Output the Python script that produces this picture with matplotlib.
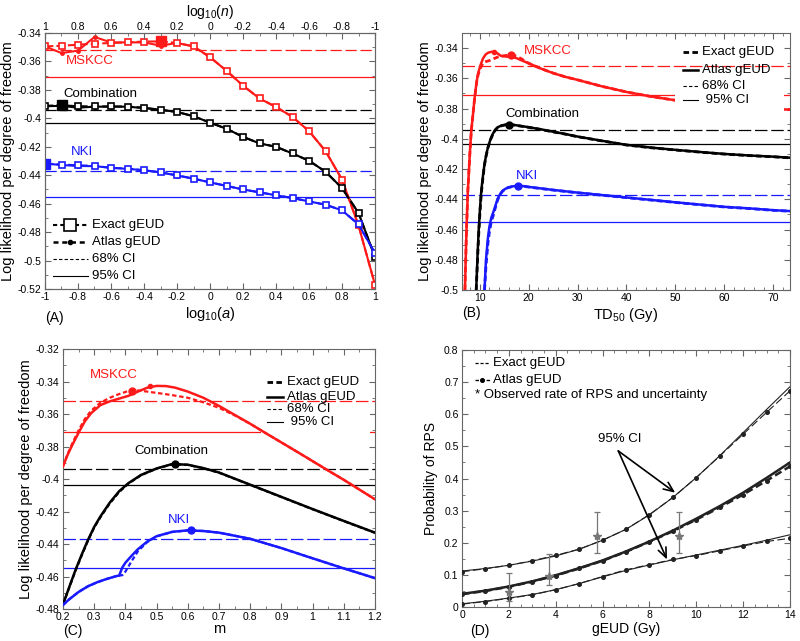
import matplotlib
matplotlib.use('Agg')
import matplotlib.pyplot as plt
from matplotlib.lines import Line2D
from matplotlib.patches import Rectangle
from matplotlib.ticker import MultipleLocator, FuncFormatter

plt.rcParams['font.family'] = 'Liberation Sans'
plt.rcParams['axes.unicode_minus'] = False
plt.rcParams['mathtext.fontset'] = 'custom'
plt.rcParams['mathtext.rm'] = 'Liberation Sans'
plt.rcParams['mathtext.it'] = 'Liberation Sans:italic'
plt.rcParams['xtick.direction'] = 'in'
plt.rcParams['ytick.direction'] = 'in'
plt.rcParams['xtick.top'] = True
plt.rcParams['ytick.right'] = True
plt.rcParams['xtick.major.size'] = 4
plt.rcParams['ytick.major.size'] = 4
plt.rcParams['xtick.minor.size'] = 2
plt.rcParams['ytick.minor.size'] = 2
plt.rcParams['xtick.major.pad'] = 2.5
plt.rcParams['ytick.major.pad'] = 2.5
plt.rcParams['axes.edgecolor'] = '#666666'
plt.rcParams['xtick.color'] = '#666666'
plt.rcParams['ytick.color'] = '#666666'
plt.rcParams['xtick.labelcolor'] = 'black'
plt.rcParams['ytick.labelcolor'] = 'black'

RED = '#ff1a1a'
BLUE = '#1a1aff'

# ---------------- panel A: vs log10(a) ----------------
log_a = [-1.0, -0.9, -0.8, -0.7, -0.6, -0.5, -0.4, -0.3, -0.2, -0.1, 0.0,
         0.1, 0.2, 0.3, 0.4, 0.5, 0.6, 0.7, 0.8, 0.9, 1.0]
a_mskcc_exact = [-0.3494, -0.349, -0.3482, -0.3475, -0.347, -0.3466, -0.346, -0.3459, -0.347, -0.3494, -0.357,
                 -0.3665, -0.377, -0.386, -0.392, -0.399, -0.409, -0.423, -0.443, -0.4753, -0.517]
a_mskcc_atlas = [-0.3494, -0.3541, -0.3524, -0.3428, -0.3466, -0.3466, -0.3466, -0.3489, -0.347, -0.3494, -0.357,
                 -0.3665, -0.377, -0.386, -0.392, -0.399, -0.409, -0.423, -0.443, -0.4753, -0.517]
a_comb_exact = [-0.3912, -0.3908, -0.3915, -0.3916, -0.3916, -0.3917, -0.3925, -0.394, -0.3955, -0.3985, -0.403,
                -0.4073, -0.413, -0.4176, -0.420, -0.4247, -0.4298, -0.4375, -0.449, -0.4665, -0.4975]
a_comb_atlas = [-0.3915, -0.3912, -0.3925, -0.3918, -0.3918, -0.3918, -0.3928, -0.394, -0.3955, -0.3985, -0.403,
                -0.4073, -0.413, -0.4176, -0.420, -0.4247, -0.4298, -0.4375, -0.449, -0.4665, -0.4975]
a_nki_exact = [-0.4318, -0.4325, -0.433, -0.4334, -0.4348, -0.4353, -0.4365, -0.438, -0.440, -0.4424, -0.445,
               -0.4475, -0.450, -0.452, -0.4541, -0.456, -0.4584, -0.4607, -0.4647, -0.4745, -0.4948]
a_nki_atlas = [-0.4318, -0.4328, -0.4335, -0.4336, -0.4348, -0.4355, -0.4365, -0.438, -0.4402, -0.4424, -0.445,
               -0.4475, -0.450, -0.452, -0.4541, -0.456, -0.4584, -0.4607, -0.4647, -0.4745, -0.4948]
a_peak_idx = [7, 1, 0]   # filled square = maximum (MSKCC, Combination, NKI)

# confidence levels (same in A, B, C)
ci68 = [-0.352, -0.394, -0.437]
ci95 = [-0.371, -0.4035, -0.455]

# ---------------- panel B: vs TD50 ----------------
b_mskcc_x = [7.0, 7.3, 7.6, 8.0, 8.3, 8.7, 9.0, 9.4, 9.7, 10.2, 10.7, 11.2, 11.7, 12.3, 12.9, 13.6, 14.4, 15.5,
             16.5, 17.5, 18.5, 20, 22.5, 25, 27.5, 30, 35, 40, 45, 50, 55, 60, 65, 70, 73.4]
b_mskcc_atlas = [-0.5, -0.462, -0.434, -0.41, -0.3945, -0.382, -0.3724, -0.362, -0.3565, -0.351, -0.3468, -0.3443,
                 -0.3431, -0.3425, -0.3424, -0.3434, -0.3452, -0.3456, -0.3458, -0.3466, -0.348, -0.350, -0.3535,
                 -0.3565, -0.359, -0.361, -0.3653, -0.369, -0.372, -0.3745, -0.3765, -0.3782, -0.3795, -0.3803, -0.3807]
b_mskcc_exact = [-0.5, -0.462, -0.434, -0.41, -0.3945, -0.382, -0.3724, -0.3625, -0.3575, -0.353, -0.3497, -0.349,
                 -0.3485, -0.348, -0.347, -0.346, -0.3453, -0.3448, -0.3447, -0.3452, -0.347, -0.350, -0.3535,
                 -0.3565, -0.359, -0.361, -0.3653, -0.369, -0.372, -0.3745, -0.3765, -0.3782, -0.3795, -0.3803, -0.3807]
b_comb_x = [9.3, 9.6, 9.8, 10.1, 10.35, 10.7, 11.0, 11.35, 11.7, 12.2, 12.7, 13.2, 13.7, 14.5, 15.3, 16.1, 17, 18,
            20, 22.5, 25, 27.5, 30, 35, 40, 45, 50, 55, 60, 65, 70, 73.4]
b_comb_atlas = [-0.5, -0.475, -0.461, -0.445, -0.434, -0.424, -0.4166, -0.4105, -0.4056, -0.4005, -0.3967, -0.394,
                -0.3923, -0.3912, -0.3907, -0.3906, -0.3908, -0.3913, -0.3923, -0.3937, -0.3953, -0.3968, -0.3985,
                -0.4013, -0.404, -0.4058, -0.4073, -0.4087, -0.410, -0.411, -0.4118, -0.4125]
b_comb_exact = [-0.5, -0.478, -0.464, -0.447, -0.436, -0.425, -0.4172, -0.411, -0.406, -0.4008, -0.3969, -0.3942,
                -0.3925, -0.3913, -0.3907, -0.3906, -0.3909, -0.3914, -0.3924, -0.3938, -0.3954, -0.3969, -0.3986,
                -0.4014, -0.4041, -0.4059, -0.4074, -0.4088, -0.4101, -0.4111, -0.4119, -0.4126]
b_nki_x = [11.0, 11.3, 11.7, 12.0, 12.4, 12.8, 13.1, 13.4, 13.7, 14.2, 14.7, 15.2, 15.8, 16.8, 17.8, 19, 20,
           22.5, 25, 27.5, 30, 35, 40, 45, 50, 55, 60, 65, 70, 73.4]
b_nki_atlas = [-0.5, -0.48, -0.4654, -0.458, -0.452, -0.4485, -0.4455, -0.4425, -0.4395, -0.4365, -0.4343, -0.4332,
               -0.4322, -0.4314, -0.431, -0.4313, -0.4318, -0.4328, -0.4338, -0.4347, -0.4356, -0.4372, -0.4388,
               -0.4404, -0.442, -0.4435, -0.445, -0.446, -0.4472, -0.4478]
b_nki_exact = [-0.5, -0.484, -0.469, -0.4615, -0.4545, -0.4505, -0.4468, -0.4435, -0.4402, -0.4368, -0.4346,
               -0.4334, -0.4323, -0.4315, -0.4311, -0.4314, -0.4319, -0.4329, -0.4339, -0.4348, -0.4357, -0.4373,
               -0.4389, -0.4405, -0.4421, -0.4436, -0.4451, -0.4461, -0.4473, -0.4479]
b_atlas_peak = [(12.9, -0.3424), (16.1, -0.3906), (17.8, -0.431)]
b_exact_peak = [(16.5, -0.3447), (16.1, -0.3906), (17.8, -0.431)]

# ---------------- panel C: vs m ----------------
c_mskcc_x = [0.2, 0.215, 0.23, 0.25, 0.27, 0.29, 0.32, 0.35, 0.38, 0.41, 0.44, 0.47, 0.5, 0.53, 0.56, 0.6,
             0.65, 0.7, 0.75, 0.8, 0.85, 0.9, 0.95, 1.0, 1.05, 1.1, 1.15, 1.2]
c_mskcc_atlas = [-0.3922, -0.385, -0.379, -0.3715, -0.3645, -0.3595, -0.3545, -0.3522, -0.3505, -0.3488, -0.3462,
                 -0.3438, -0.3427, -0.3428, -0.3438, -0.3462, -0.350, -0.355, -0.3605, -0.366, -0.3718, -0.3775,
                 -0.3832, -0.389, -0.3948, -0.4005, -0.4065, -0.4125]
c_mskcc_exact = [-0.3922, -0.3845, -0.378, -0.370, -0.363, -0.358, -0.353, -0.350, -0.3477, -0.3458, -0.3455,
                 -0.3462, -0.347, -0.3478, -0.3487, -0.350, -0.3528, -0.3562, -0.3608, -0.366, -0.3718, -0.3775,
                 -0.3832, -0.389, -0.3948, -0.4005, -0.4065, -0.4125]
c_comb_x = [0.2, 0.22, 0.24, 0.26, 0.28, 0.3, 0.32, 0.35, 0.38, 0.41, 0.45, 0.5, 0.55, 0.6, 0.65, 0.7, 0.8,
            0.9, 1.0, 1.1, 1.2]
c_comb_atlas = [-0.4772, -0.4665, -0.456, -0.4465, -0.4375, -0.4295, -0.423, -0.4145, -0.4075, -0.4025, -0.3975,
                -0.3935, -0.3908, -0.3912, -0.3933, -0.396, -0.4035, -0.411, -0.4185, -0.4258, -0.433]
c_comb_exact = [-0.4772, -0.4668, -0.4565, -0.447, -0.438, -0.4298, -0.4235, -0.415, -0.408, -0.4028, -0.3977,
                -0.3936, -0.3909, -0.3913, -0.3934, -0.3961, -0.4036, -0.4111, -0.4186, -0.4259, -0.4331]
c_nki_x = [0.2, 0.22, 0.25, 0.28, 0.31, 0.34, 0.37, 0.38, 0.39, 0.4, 0.42, 0.44, 0.47, 0.5, 0.55, 0.6, 0.65,
           0.7, 0.8, 0.9, 1.0, 1.1, 1.2]
c_nki_atlas = [-0.4775, -0.474, -0.4695, -0.466, -0.4635, -0.4615, -0.4598, -0.4594, -0.4545, -0.4515, -0.4472,
               -0.4432, -0.4385, -0.4352, -0.4325, -0.4316, -0.432, -0.433, -0.4368, -0.4425, -0.4488, -0.455, -0.461]
c_nki_exact = [-0.4775, -0.474, -0.4695, -0.466, -0.4635, -0.4615, -0.4598, -0.4594, -0.4592, -0.457, -0.4505,
               -0.4445, -0.4388, -0.4353, -0.4326, -0.4316, -0.432, -0.433, -0.4368, -0.4425, -0.4488, -0.455, -0.461]
c_atlas_peak = [(0.48, -0.3428), (0.56, -0.3905), (0.61, -0.4316)]
c_exact_peak = [(0.42, -0.3456), (0.56, -0.3905), (0.61, -0.4316)]

# ---------------- panel D: probability of RPS vs gEUD ----------------
geud = [0, 1, 2, 3, 4, 5, 6, 7, 8, 9, 10, 11, 12, 13, 14]
d_up_exact = [0.112, 0.120, 0.130, 0.143, 0.159, 0.180, 0.208, 0.242, 0.287, 0.341, 0.403, 0.471, 0.543, 0.615, 0.686]
d_up_atlas = [0.110, 0.119, 0.130, 0.144, 0.161, 0.180, 0.208, 0.242, 0.288, 0.341, 0.403, 0.470, 0.538, 0.606, 0.673]
d_mid_exact = [0.041, 0.051, 0.064, 0.080, 0.099, 0.121, 0.145, 0.173, 0.204, 0.238, 0.275, 0.314, 0.356, 0.402, 0.450]
d_mid_atlas = [0.040, 0.050, 0.063, 0.079, 0.098, 0.120, 0.144, 0.172, 0.203, 0.236, 0.272, 0.310, 0.350, 0.393, 0.438]
d_lo_exact = [0.010, 0.018, 0.028, 0.039, 0.054, 0.073, 0.094, 0.114, 0.131, 0.147, 0.162, 0.177, 0.192, 0.208, 0.225]
d_lo_atlas = [0.009, 0.017, 0.027, 0.038, 0.054, 0.073, 0.095, 0.116, 0.132, 0.148, 0.160, 0.175, 0.190, 0.204, 0.214]
obs_x = [2.0, 3.7, 5.75, 9.27]
obs_y = [0.046, 0.097, 0.220, 0.220]
obs_lo = [0.020, 0.068, 0.167, 0.167]
obs_hi = [0.107, 0.165, 0.297, 0.297]

colors = [RED, 'black', BLUE]

TICK_FS = 7.5
LAB_FS = 10.5
TXT_FS = 9.5


def fmt(v, pos):
    return '%g' % (round(v, 4) + 0.0)


def legend_rows(ax, rows, x0, x1, xt, fs):
    # rows: (y, label, line style) in axes fraction
    for y, label, kw in rows:
        ax.add_line(Line2D([x0, x1], [y, y], transform=ax.transAxes, zorder=6, **kw))
        ax.text(xt, y, label, transform=ax.transAxes, fontsize=fs, va='center', ha='left', zorder=6)


fig = plt.figure(figsize=(8, 6.41), dpi=100)

# ======== A ========
axA = fig.add_axes([0.05625, 0.5491, 0.4125, 0.3994])
series_a = [(a_mskcc_exact, a_mskcc_atlas), (a_comb_exact, a_comb_atlas), (a_nki_exact, a_nki_atlas)]
for (ex, at), col, pk, h68, h95 in zip(series_a, colors, a_peak_idx, ci68, ci95):
    axA.axhline(h68, color=col, lw=0.9, ls=(0, (9, 3)), zorder=2)
    axA.axhline(h95, color=col, lw=0.9, zorder=2)
    axA.plot(log_a, at, '-', color=col, lw=1.5, marker='o', ms=2.5, zorder=3)
    axA.plot(log_a, ex, '--', color=col, lw=1.5, dashes=(4, 1.5), marker='s', ms=5,
             mfc='white', mew=1.2, zorder=4)
    axA.plot(log_a[pk], ex[pk], 's', color=col, ms=7, zorder=5)
axA.set_xlim(-1, 1)
axA.set_ylim(-0.52, -0.34)
axA.xaxis.set_major_locator(MultipleLocator(0.2))
axA.xaxis.set_minor_locator(MultipleLocator(0.1))
axA.yaxis.set_major_locator(MultipleLocator(0.02))
axA.yaxis.set_minor_locator(MultipleLocator(0.01))
axA.xaxis.set_major_formatter(FuncFormatter(fmt))
axA.yaxis.set_major_formatter(FuncFormatter(fmt))
axA.tick_params(labelsize=TICK_FS, top=False, which='both')
axA.set_xlabel(r'log$_{10}$($a$)', fontsize=LAB_FS, labelpad=2)
axA.set_ylabel('Log likelihood per degree of freedom', fontsize=LAB_FS, labelpad=2)
topA = axA.twiny()
topA.set_xlim(-1, 1)
topA.xaxis.set_major_locator(MultipleLocator(0.2))
topA.xaxis.set_minor_locator(MultipleLocator(0.1))
topA.xaxis.set_major_formatter(FuncFormatter(lambda v, p: '%g' % (round(-v, 4) + 0.0)))
topA.tick_params(labelsize=TICK_FS, which='both', direction='in', pad=1)
topA.set_xlabel(r'log$_{10}$($n$)', fontsize=LAB_FS - 0.5, labelpad=4)
axA.text(-0.727, -0.360, 'MSKCC', color=RED, fontsize=TXT_FS, ha='center', va='center')
axA.text(-0.667, -0.383, 'Combination', color='black', fontsize=TXT_FS, ha='center', va='center')
axA.text(-0.778, -0.4238, 'NKI', color=BLUE, fontsize=TXT_FS, ha='center', va='center')
legend_rows(axA, [
    (0.250, 'Exact gEUD', dict(color='black', lw=1.5, ls=(0, (2, 1.5)))),
    (0.184, 'Atlas gEUD', dict(color='black', lw=1.8, ls=(0, (2, 1.5)))),
    (0.117, '68% CI', dict(color='black', lw=0.8, ls=(0, (3, 2)))),
    (0.051, '95% CI', dict(color='black', lw=0.8)),
], 0.024, 0.13, 0.142, TXT_FS)
axA.plot([0.077], [0.250], 's', ms=8, mfc='white', mec='black', mew=1.2, transform=axA.transAxes, zorder=7)
axA.plot([0.077], [0.184], 'o', ms=3, color='black', transform=axA.transAxes, zorder=7)
fig.text(45 / 800, 1 - 318 / 641, '(A)', fontsize=LAB_FS - 0.5, ha='left', va='center')

# ======== B ========
axB = fig.add_axes([0.5775, 0.5476, 0.41, 0.4009])
series_b = [(b_mskcc_x, b_mskcc_exact, b_mskcc_atlas), (b_comb_x, b_comb_exact, b_comb_atlas),
            (b_nki_x, b_nki_exact, b_nki_atlas)]
for (x, ex, at), col, h68, h95, pa, pe in zip(series_b, colors, ci68, ci95, b_atlas_peak, b_exact_peak):
    axB.axhline(h68, color=col, lw=0.9, ls=(0, (10, 3)), zorder=2)
    axB.axhline(h95, color=col, lw=0.9, zorder=2)
    axB.plot(x, at, '-', color=col, lw=1.8, zorder=3)
    axB.plot(x, ex, '--', color=col, lw=2.0, dashes=(2, 1.2), zorder=3)
    axB.plot(*pa, 'o', color=col, ms=3, zorder=4)
    axB.plot(*pe, 'o', color=col, ms=5, zorder=4)
# the lower legend block has a white box that hides the curve behind it
axB.add_patch(Rectangle((50, -0.3825), 22.2, 0.0255, facecolor='white', edgecolor='none', zorder=4.5))
axB.set_xlim(6.4, 73.4)
axB.set_ylim(-0.5, -0.33)
axB.xaxis.set_major_locator(MultipleLocator(10))
axB.xaxis.set_minor_locator(MultipleLocator(2))
axB.yaxis.set_major_locator(MultipleLocator(0.02))
axB.yaxis.set_minor_locator(MultipleLocator(0.01))
axB.yaxis.set_major_formatter(FuncFormatter(fmt))
axB.tick_params(labelsize=TICK_FS, which='both')
axB.set_xlabel(r'TD$_{50}$ (Gy)', fontsize=LAB_FS, labelpad=2)
axB.set_ylabel('Log likelihood per degree of freedom', fontsize=LAB_FS, labelpad=2)
axB.text(23.9, -0.342, 'MSKCC', color=RED, fontsize=TXT_FS, ha='center', va='center')
axB.text(22.8, -0.3834, 'Combination', color='black', fontsize=TXT_FS, ha='center', va='center')
axB.text(19.75, -0.4244, 'NKI', color=BLUE, fontsize=TXT_FS, ha='center', va='center')
legend_rows(axB, [
    (0.927, 'Exact gEUD', dict(color='black', lw=2.0, ls=(0, (2, 1.2)))),
    (0.856, 'Atlas gEUD', dict(color='black', lw=1.8)),
    (0.794, '68% CI', dict(color='black', lw=0.8, ls=(0, (3, 2)))),
    (0.739, ' 95% CI', dict(color='black', lw=0.8)),
], 0.674, 0.72, 0.732, TXT_FS)
fig.text(462 / 800, 1 - 313 / 641, '(B)', fontsize=LAB_FS - 0.5, ha='left', va='center')

# ======== C ========
axC = fig.add_axes([0.07875, 0.0499, 0.39, 0.4056])
series_c = [(c_mskcc_x, c_mskcc_exact, c_mskcc_atlas), (c_comb_x, c_comb_exact, c_comb_atlas),
            (c_nki_x, c_nki_exact, c_nki_atlas)]
for (x, ex, at), col, h68, h95, pa, pe in zip(series_c, colors, ci68, ci95, c_atlas_peak, c_exact_peak):
    axC.axhline(h68, color=col, lw=0.9, ls=(0, (10, 3)), zorder=2)
    axC.axhline(h95, color=col, lw=0.9, zorder=2)
    axC.plot(x, at, '-', color=col, lw=1.8, zorder=3)
    axC.plot(x, ex, '--', color=col, lw=1.6, dashes=(2, 1.2), zorder=3)
    axC.plot(*pa, 'o', color=col, ms=3, zorder=4)
    axC.plot(*pe, 'o', color=col, ms=5, zorder=4)
axC.add_patch(Rectangle((0.835, -0.3735), 0.35, 0.018, facecolor='white', edgecolor='none', zorder=2.5))
axC.set_xlim(0.2, 1.2)
axC.set_ylim(-0.48, -0.32)
axC.xaxis.set_major_locator(MultipleLocator(0.1))
axC.xaxis.set_minor_locator(MultipleLocator(0.05))
axC.yaxis.set_major_locator(MultipleLocator(0.02))
axC.yaxis.set_minor_locator(MultipleLocator(0.01))
axC.xaxis.set_major_formatter(FuncFormatter(fmt))
axC.yaxis.set_major_formatter(FuncFormatter(fmt))
axC.tick_params(labelsize=TICK_FS, which='both')
axC.set_xlabel('m', fontsize=LAB_FS, labelpad=0)
axC.set_ylabel('Log likelihood per degree of freedom', fontsize=LAB_FS, labelpad=2)
axC.text(0.362, -0.3358, 'MSKCC', color=RED, fontsize=TXT_FS, ha='center', va='center')
axC.text(0.546, -0.383, 'Combination', color='black', fontsize=TXT_FS, ha='center', va='center')
axC.text(0.573, -0.425, 'NKI', color=BLUE, fontsize=TXT_FS, ha='center', va='center')
legend_rows(axC, [
    (0.875, 'Exact gEUD', dict(color='black', lw=2.0, ls=(0, (2, 1.2)))),
    (0.815, 'Atlas gEUD', dict(color='black', lw=1.8)),
    (0.770, '68% CI', dict(color='black', lw=0.8, ls=(0, (3, 2)))),
    (0.718, ' 95% CI', dict(color='black', lw=0.8)),
], 0.654, 0.706, 0.717, TXT_FS)
fig.text(63 / 800, 1 - 631 / 641, '(C)', fontsize=LAB_FS - 0.5, ha='left', va='center')

# ======== D ========
axD = fig.add_axes([0.5775, 0.0530, 0.41, 0.4009])
for ex, at, lw in [(d_up_exact, d_up_atlas, 0.8), (d_mid_exact, d_mid_atlas, 1.8), (d_lo_exact, d_lo_atlas, 0.8)]:
    axD.plot(geud, ex, '-', color='#222222', lw=lw, zorder=3)
    axD.plot(geud, at, '--', color='#222222', lw=lw, dashes=(7, 3) if lw < 1 else (3, 1.5),
             marker='o', ms=2.6, zorder=3)
axD.errorbar(obs_x, obs_y, yerr=[[y - l for y, l in zip(obs_y, obs_lo)], [h - y for y, h in zip(obs_y, obs_hi)]],
             fmt='*', color='#777777', ms=6, elinewidth=0.9, capsize=2.5, capthick=0.9, zorder=4)
axD.text(6.75, 0.522, '95% CI', fontsize=TXT_FS, ha='center', va='center')
axD.annotate('', xy=(9.1, 0.356), xytext=(6.67, 0.486),
             arrowprops=dict(arrowstyle='->,head_length=0.7,head_width=0.3', lw=1.2, color='black',
                             shrinkA=0, shrinkB=0))
axD.annotate('', xy=(8.75, 0.148), xytext=(6.67, 0.486),
             arrowprops=dict(arrowstyle='->,head_length=0.7,head_width=0.3', lw=1.2, color='black',
                             shrinkA=0, shrinkB=0))
axD.set_xlim(0, 14)
axD.set_ylim(0, 0.8)
axD.xaxis.set_major_locator(MultipleLocator(2))
axD.xaxis.set_minor_locator(MultipleLocator(0.5))
axD.yaxis.set_major_locator(MultipleLocator(0.1))
axD.yaxis.set_minor_locator(MultipleLocator(0.05))
axD.yaxis.set_major_formatter(FuncFormatter(fmt))
axD.tick_params(labelsize=TICK_FS, which='both')
axD.set_xlabel('gEUD (Gy)', fontsize=LAB_FS - 0.5, labelpad=1)
axD.set_ylabel('Probability of RPS', fontsize=LAB_FS - 0.5, labelpad=4)
legend_rows(axD, [
    (0.949, 'Exact gEUD', dict(color='black', lw=0.9, ls=(0, (2.5, 1.5)))),
    (0.883, 'Atlas gEUD', dict(color='black', lw=1.0, ls=(0, (2.5, 1.5)))),
], 0.04, 0.085, 0.095, TXT_FS)
axD.plot([0.062], [0.883], 'o', ms=2.6, color='black', transform=axD.transAxes, zorder=7)
axD.text(0.04, 0.825, '* Observed rate of RPS and uncertainty', transform=axD.transAxes,
         fontsize=TXT_FS, ha='left', va='center')
fig.text(470 / 800, 1 - 631 / 641, '(D)', fontsize=LAB_FS - 0.5, ha='left', va='center')

fig.savefig('out.png', dpi=100)
